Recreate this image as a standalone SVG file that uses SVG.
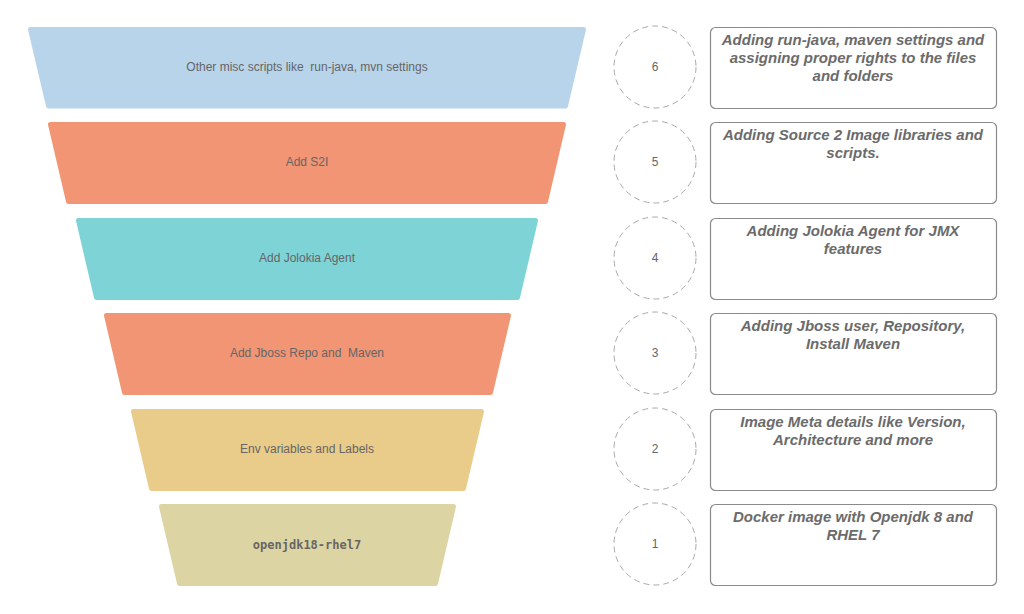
<svg xmlns="http://www.w3.org/2000/svg" width="1024" height="614" viewBox="0 0 1024 614">
<style>
.trap{stroke-width:5;stroke-linejoin:round}
.lbl{font-family:"Liberation Sans",Arial,sans-serif;font-size:12px;fill:#666;text-anchor:middle;white-space:pre}
.mono{font-family:"DejaVu Sans Mono","Liberation Mono",monospace;font-size:12px;font-weight:bold;fill:#666;text-anchor:middle}
.circ{fill:#fff;stroke:#aaa;stroke-width:1;stroke-dasharray:6 4}
.num{font-family:"Liberation Sans",Arial,sans-serif;font-size:12px;fill:#666;text-anchor:middle}
.box{fill:#fff;stroke:#8a8a8a;stroke-width:1.2}
.desc{font-family:"Liberation Sans",Arial,sans-serif;font-size:15px;font-weight:bold;font-style:italic;fill:#6b6b6b;text-anchor:middle}
</style>
<rect width="1024" height="614" fill="#fff"/>
<g id="layer6">
<polygon class="trap" fill="#b8d4ea" stroke="#b8d4ea" points="30.5,29.5 583.5,29.5 565.5,106 48.5,106"/>
<text class="lbl" x="307" y="71" xml:space="preserve">Other misc scripts like  run-java, mvn settings</text>
</g>
<g id="layer5">
<polygon class="trap" fill="#f19574" stroke="#f19574" points="50.5,124.5 563.5,124.5 545.5,201.5 68.5,201.5"/>
<text class="lbl" x="307" y="166">Add S2I</text>
</g>
<g id="layer4">
<polygon class="trap" fill="#7dd3d6" stroke="#7dd3d6" points="78.5,220.5 535.5,220.5 517.5,297.5 96.5,297.5"/>
<text class="lbl" x="307" y="262">Add Jolokia Agent</text>
</g>
<g id="layer3">
<polygon class="trap" fill="#f19574" stroke="#f19574" points="106.5,315.5 508.5,315.5 490.5,392.5 124.5,392.5"/>
<text class="lbl" x="307" y="357" xml:space="preserve">Add Jboss Repo and  Maven</text>
</g>
<g id="layer2">
<polygon class="trap" fill="#e9cb8a" stroke="#e9cb8a" points="133.5,411.5 481.5,411.5 463.5,488.5 151.5,488.5"/>
<text class="lbl" x="307" y="453">Env variables and Labels</text>
</g>
<g id="layer1">
<polygon class="trap" fill="#ddd4a4" stroke="#ddd4a4" points="161.5,506.5 453.5,506.5 435.5,583.5 179.5,583.5"/>
<text class="mono" x="307" y="549">openjdk18-rhel7</text>
</g>
<g id="step6"><circle class="circ" cx="655" cy="67" r="41"/><text class="num" x="655" y="71">6</text></g>
<g id="step5"><circle class="circ" cx="655" cy="162" r="41"/><text class="num" x="655" y="166">5</text></g>
<g id="step4"><circle class="circ" cx="655" cy="258" r="41"/><text class="num" x="655" y="262">4</text></g>
<g id="step3"><circle class="circ" cx="655" cy="353" r="41"/><text class="num" x="655" y="357">3</text></g>
<g id="step2"><circle class="circ" cx="655" cy="449" r="41"/><text class="num" x="655" y="453">2</text></g>
<g id="step1"><circle class="circ" cx="655" cy="544" r="41"/><text class="num" x="655" y="548">1</text></g>
<g id="desc6"><rect class="box" x="710.5" y="27.5" width="286" height="81" rx="5"/>
<text class="desc" x="853" y="45">Adding run-java, maven settings and</text>
<text class="desc" x="853" y="63">assigning proper rights to the files</text>
<text class="desc" x="853" y="81">and folders</text></g>
<g id="desc5"><rect class="box" x="710.5" y="122.5" width="286" height="81" rx="5"/>
<text class="desc" x="853" y="140">Adding Source 2 Image libraries and</text>
<text class="desc" x="853" y="158">scripts.</text></g>
<g id="desc4"><rect class="box" x="710.5" y="218.5" width="286" height="81" rx="5"/>
<text class="desc" x="853" y="236">Adding Jolokia Agent for JMX</text>
<text class="desc" x="853" y="254">features</text></g>
<g id="desc3"><rect class="box" x="710.5" y="313.5" width="286" height="81" rx="5"/>
<text class="desc" x="853" y="331">Adding Jboss user, Repository,</text>
<text class="desc" x="853" y="349">Install Maven</text></g>
<g id="desc2"><rect class="box" x="710.5" y="409.5" width="286" height="81" rx="5"/>
<text class="desc" x="853" y="427">Image Meta details like Version,</text>
<text class="desc" x="853" y="445">Architecture and more</text></g>
<g id="desc1"><rect class="box" x="710.5" y="504.5" width="286" height="81" rx="5"/>
<text class="desc" x="853" y="522">Docker image with Openjdk 8 and</text>
<text class="desc" x="853" y="540">RHEL 7</text></g>
<g id="connectors"/>
</svg>
